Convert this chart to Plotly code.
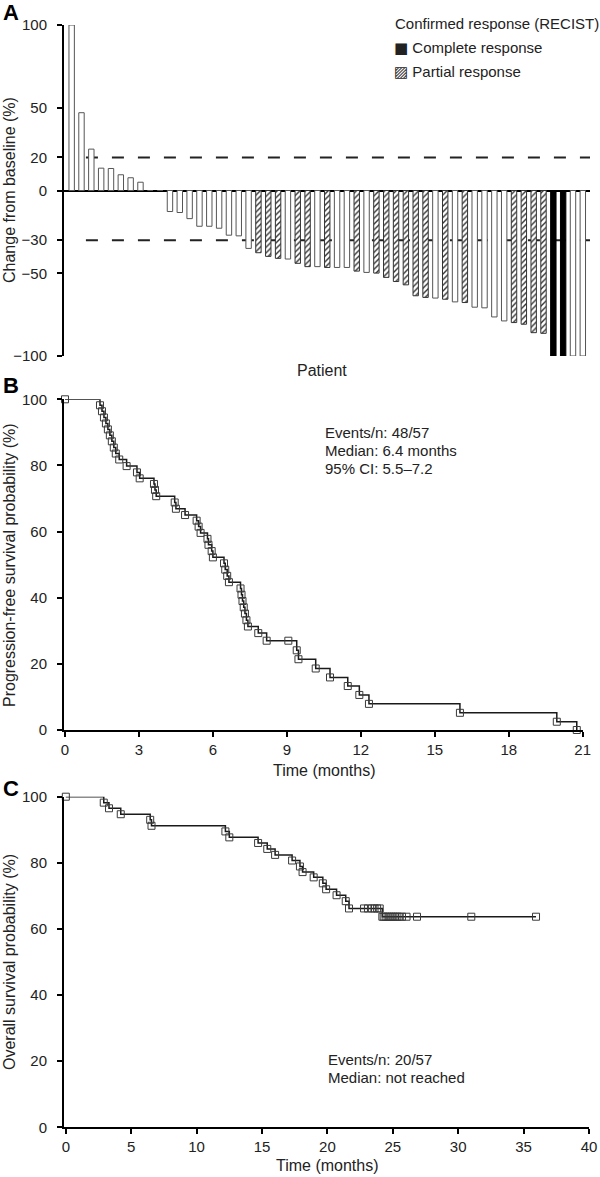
import plotly.graph_objects as go

W, H = 600, 1177
FONT = "Liberation Sans, Arial, Helvetica, sans-serif"

# --- Panel A: best change from baseline per patient (waterfall) ---
change_pct = [100, 47, 25, 13.5, 13.3, 9.5, 7.7, 5, 0, 0,
              -12.7, -13.3, -17, -21.6, -21.6, -22.8, -27, -27.4, -35, -37.6,
              -39.8, -41, -41.4, -44, -46, -46, -46.5, -46.5, -46.5, -48.7,
              -49.5, -49.9, -52.5, -55, -57, -63.6, -64.6, -65, -65.7, -67.3,
              -67.7, -70.5, -70.9, -76.4, -78.8, -79.8, -80.8, -85.9, -86.3, -100,
              -100, -100, -100]
# N = no confirmed response, P = partial response, C = complete response
response = ["N", "N", "N", "N", "N", "N", "N", "N", "N", "N",
            "N", "N", "N", "N", "N", "N", "N", "N", "N", "P",
            "P", "P", "N", "P", "P", "N", "P", "N", "N", "P",
            "N", "P", "P", "P", "P", "P", "P", "N", "P", "N",
            "P", "N", "N", "N", "N", "P", "P", "P", "P", "C",
            "C", "N", "N"]
a_ticks = [100, 50, 20, 0, -30, -50, -100]
a_ticktext = ["100", "50", "20", "0", "\u221230", "\u221250", "\u2212100"]
thresholds = [20, -30]
legend_title = "Confirmed response (RECIST)"
legend_items = [("\u25a0", "Complete response"), ("\u25a8", "Partial response")]

# --- Panel B: progression-free survival (Kaplan-Meier steps) ---
pfs_t = [0, 1.42, 1.5, 1.58, 1.66, 1.74, 1.82, 1.9, 1.98, 2.06, 2.2,
         2.5, 2.92, 3.03, 3.61, 3.65, 3.7, 4.45, 4.5, 4.87, 5.34,
         5.42, 5.5, 5.78, 5.82, 5.95, 6.0, 6.45, 6.5, 6.58, 6.65,
         7.12, 7.16, 7.2, 7.25, 7.3, 7.36, 7.42, 7.84, 8.18, 9.4,
         9.47, 10.17, 10.75, 11.47, 11.94, 12.33, 16.02, 19.95, 20.76]
pfs_s = [100, 98.2, 96.4, 94.5, 92.7, 90.9, 89.1, 87.3, 85.4, 83.6, 81.8,
         79.8, 77.9, 76.1, 74.4, 72.6, 70.7, 68.8, 66.9, 65.0, 63.3,
         61.5, 59.6, 57.8, 56.0, 54.1, 52.2, 50.4, 48.5, 46.6, 44.7,
         42.8, 40.9, 39.0, 37.1, 35.2, 33.2, 31.3, 29.3, 27.0, 24.1,
         21.4, 18.6, 15.9, 13.3, 10.6, 7.9, 5.2, 2.5, 0]
pfs_cens_t = [9.06]
pfs_cens_s = [27.0]
pfs_lines = ["Events/n: 48/57", "Median: 6.4 months", "95% CI: 5.5\u20137.2"]

# --- Panel C: overall survival ---
os_t = [0, 2.9, 3.3, 4.2, 6.45, 6.55, 12.2, 12.5, 14.7, 15.4, 16.0,
        17.3, 17.9, 18.1, 18.95, 19.65, 19.9, 20.7, 21.4, 21.65, 24.2]
os_s = [100, 98.2, 96.5, 94.7, 93.0, 91.2, 89.5, 87.7, 86.0, 84.2, 82.4,
        80.7, 78.9, 77.2, 75.6, 73.8, 72.0, 70.2, 68.4, 66.2, 63.7]
os_cens_t = [22.8, 23.1, 23.4, 23.6, 23.8, 24.0, 24.3, 24.45, 24.6, 24.75,
             24.9, 25.05, 25.2, 25.35, 25.5, 25.7, 26.05, 26.85, 31.0, 35.95]
os_cens_s = [66.2, 66.2, 66.2, 66.2, 66.2, 66.2, 63.7, 63.7, 63.7, 63.7,
             63.7, 63.7, 63.7, 63.7, 63.7, 63.7, 63.7, 63.7, 63.7, 63.7]
os_lines = ["Events/n: 20/57", "Median: not reached"]


def py(y):
    # pixel row -> paper fraction
    return 1 - y / H


fig = go.Figure()

patients = list(range(1, len(change_pct) + 1))
bar_styles = {
    "N": dict(name="No confirmed response",
              marker=dict(color="white", line=dict(color="#555", width=1))),
    "C": dict(name="Complete response",
              marker=dict(color="black", line=dict(color="black", width=1))),
    "P": dict(name="Partial response",
              marker=dict(color="white", line=dict(color="#333", width=1),
                          pattern=dict(shape="/", fgcolor="#333", bgcolor="white",
                                       size=4, solidity=0.35))),
}
for code in ["N", "C", "P"]:
    xs = [p for p, r in zip(patients, response) if r == code]
    ys = [v for v, r in zip(change_pct, response) if r == code]
    fig.add_trace(go.Bar(x=xs, y=ys, width=0.55, xaxis="x", yaxis="y",
                         showlegend=False, **bar_styles[code]))

for t, s, ct, cs, ax in [(pfs_t, pfs_s, pfs_cens_t, pfs_cens_s, "2"),
                         (os_t, os_s, os_cens_t, os_cens_s, "3")]:
    # line runs on to the last censored follow-up if that is later
    lt, ls = list(t), list(s)
    if ct[-1] > t[-1]:
        lt.append(ct[-1])
        ls.append(cs[-1])
    fig.add_trace(go.Scatter(x=lt, y=ls, mode="lines", line_shape="hv",
                             line=dict(color="#1a1a1a", width=1.5),
                             xaxis="x" + ax, yaxis="y" + ax, showlegend=False,
                             cliponaxis=False))
    fig.add_trace(go.Scatter(x=t + ct, y=s + cs, mode="markers",
                             marker=dict(symbol="square-open", size=7, color="#3a3a3a",
                                         line=dict(width=1)),
                             xaxis="x" + ax, yaxis="y" + ax, showlegend=False,
                             cliponaxis=False))

axis_common = dict(showline=True, linecolor="black", linewidth=2, ticks="outside",
                   ticklen=5, tickwidth=2, tickcolor="black", showgrid=False,
                   automargin=False, tickfont=dict(size=15, color="#222"))

fig.update_layout(
    template="none",
    width=W, height=H,
    margin=dict(l=0, r=0, t=0, b=0, autoexpand=False),
    paper_bgcolor="white", plot_bgcolor="white",
    font=dict(family=FONT, size=16, color="#222"),
    barmode="overlay",
    showlegend=False,
    xaxis=dict(domain=[64 / W, 590 / W], range=[0.22, 53.73], visible=False, anchor="y"),
    yaxis=dict(domain=[py(356), py(25)], range=[-100, 100], tickvals=a_ticks,
               ticktext=a_ticktext, anchor="x", ticklabelstandoff=7,
               zeroline=True, zerolinecolor="black", zerolinewidth=2, **axis_common),
    xaxis2=dict(domain=[64 / W, 582.7 / W], range=[-0.04, 21], tickvals=list(range(0, 22, 3)),
                anchor="y2", zeroline=False, **axis_common),
    yaxis2=dict(domain=[py(730), py(399.3)], range=[0, 100], tickvals=list(range(0, 101, 20)),
                anchor="x2", ticklabelstandoff=7, zeroline=False, **axis_common),
    xaxis3=dict(domain=[64 / W, 589 / W], range=[-0.14, 40], tickvals=list(range(0, 41, 5)),
                anchor="y3", zeroline=False, **axis_common),
    yaxis3=dict(domain=[py(1127.3), py(796.7)], range=[0, 100], tickvals=list(range(0, 101, 20)),
                anchor="x3", ticklabelstandoff=7, zeroline=False, **axis_common),
)

for th in thresholds:
    fig.add_shape(type="line", xref="x", yref="y", x0=2.45, x1=53.73, y0=th, y1=th,
                  line=dict(color="#222", width=2, dash="12px,14px"), layer="below")


def label(text, x, y, size=16, xanchor="left", angle=0, color="#222"):
    fig.add_annotation(text=text, x=x / W, y=py(y), xref="paper", yref="paper",
                       xanchor=xanchor, yanchor="middle", textangle=angle,
                       showarrow=False, font=dict(size=size, color=color))


# panel letters
for letter, y in [("A", 12), ("B", 386), ("C", 788)]:
    label("<b>" + letter + "</b>", 1, y, size=22, color="black")

# axis titles
label("Change from baseline (%)", 9, 190, xanchor="center", angle=-90)
label("Progression-free survival probability (%)", 9, 565, xanchor="center", angle=-90)
label("Overall survival probability (%)", 9, 962, xanchor="center", angle=-90)
label("Patient", 322, 370, xanchor="center")
label("Time (months)", 324, 770, xanchor="center")
label("Time (months)", 327, 1165, xanchor="center")

# response legend (swatch glyphs in DejaVu, which has the hatched square)
label(legend_title, 393, 23, size=15)
for i, (sym, txt) in enumerate(legend_items):
    swatch = "<span style=\"font-family:'DejaVu Sans'\">" + sym + "</span>"
    label(swatch + " " + txt, 392, 48 + 24.5 * i, size=15)

# survival summaries
for i, txt in enumerate(pfs_lines):
    label(txt, 323, 432 + 18 * i, size=15)
for i, txt in enumerate(os_lines):
    label(txt, 326, 1059 + 18.5 * i, size=15)

# the page body has a default 8px margin; drop it so the figure sits at 0,0
fig.write_html("out.html", config={"displayModeBar": False},
               post_script="document.body.style.margin='0';")
